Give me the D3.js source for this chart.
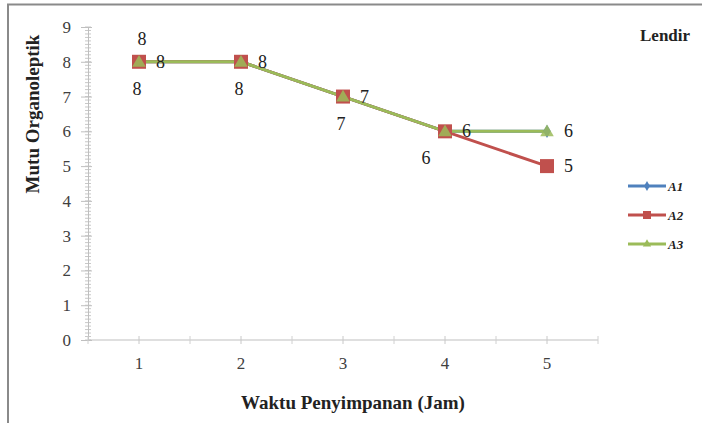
<!DOCTYPE html>
<html><head><meta charset="utf-8">
<script src="https://cdn.jsdelivr.net/npm/d3@7"></script>
<style>body{margin:0;background:#fff}svg{display:block}svg text{font-family:"Times New Roman",Tinos,"Liberation Serif","DejaVu Serif",serif !important}</style>
</head><body><svg id="c" width="702" height="423"></svg>
<script>
const categories = [1, 2, 3, 4, 5];
const A1 = [8, 8, 7, 6, 6];
const A2 = [8, 8, 7, 6, 5];
const A3 = [8, 8, 7, 6, 6];
const yTicks = [0,1,2,3,4,5,6,7,8,9];
const seriesNames = ["A1", "A2", "A3"];
const colors = ["#4f81bd", "#c0504d", "#9bbb59"];

const svg = d3.select("#c");
// frame
svg.append("path").attr("d","M8,423 V4.5 H702").attr("fill","none").attr("stroke","#8a8a8a").attr("stroke-width",2);

const m = {l:88, r:598, t:27, b:340};
const x = d3.scaleBand().domain(categories).range([m.l, m.r]);
const y = d3.scaleLinear().domain([0,9]).range([m.b, m.t]);
const cx = d => x(d) + x.bandwidth()/2;

// minor y ticks
const minor = d3.range(0, 9.01, 0.1);
svg.append("g").selectAll("line").data(minor).join("line")
  .attr("x1", m.l-3).attr("x2", m.l+3).attr("y1", d=>y(d)).attr("y2", d=>y(d))
  .attr("stroke","#c8c8c8").attr("stroke-width",1);
// y axis
const yAx = svg.append("g").attr("transform",`translate(${m.l},0)`)
  .call(d3.axisLeft(y).tickValues(yTicks).tickSize(7).tickPadding(10).tickFormat(d3.format("d")));
yAx.attr("font-family",null);
yAx.select(".domain").attr("stroke","#bfbfbf");
yAx.selectAll(".tick line").attr("stroke","#bfbfbf").attr("x2", 4).attr("x1",-7);
yAx.selectAll("text").attr("font-size",17).attr("fill","#404040");

// x axis
const xAx = svg.append("g").attr("transform",`translate(0,${m.b})`)
  .call(d3.axisBottom(x).tickSize(5).tickPadding(12));
xAx.attr("font-family",null);
xAx.select(".domain").attr("stroke","#bfbfbf").attr("d",`M${m.l},0H${m.r}`);
xAx.selectAll(".tick line").attr("stroke","#c8c8c8").attr("y1",-4).attr("y2",4);
xAx.selectAll("text").attr("font-size",17).attr("fill","#404040");
// boundary ticks
svg.append("g").selectAll("line").data(categories.concat([null])).join("line")
  .attr("x1",(d,i)=>m.l + i*x.bandwidth()).attr("x2",(d,i)=>m.l + i*x.bandwidth())
  .attr("y1",m.b-4).attr("y2",m.b+4).attr("stroke","#d0d0d0");

// axis titles
svg.append("text").attr("transform","translate(39,114) rotate(-90)").attr("text-anchor","middle")
  .attr("font-size",19).attr("font-weight","bold").attr("fill","#222").text("Mutu Organoleptik");
svg.append("text").attr("x",353).attr("y",409).attr("text-anchor","middle")
  .attr("font-size",19).attr("font-weight","bold").attr("fill","#222").text("Waktu Penyimpanan (Jam)");
svg.append("text").attr("x",640).attr("y",41).attr("font-size",17).attr("font-weight","bold").attr("fill","#222").text("Lendir");

const all = [A1, A2, A3];
const line = d3.line().x((d,i)=>cx(categories[i])).y(d=>y(d));
all.forEach((s,k)=>{
  svg.append("path").datum(s).attr("d",line).attr("fill","none").attr("stroke",colors[k]).attr("stroke-width",3);
});
// markers
svg.append("g").selectAll("path").data(A1).join("path")
  .attr("transform",(d,i)=>`translate(${cx(categories[i])},${y(d)})`)
  .attr("d", d3.symbol(d3.symbolDiamond, 50)).attr("fill",colors[0]);
svg.append("g").selectAll("rect").data(A2).join("rect")
  .attr("x",(d,i)=>cx(categories[i])-7).attr("y",d=>y(d)-7).attr("width",14).attr("height",14)
  .attr("fill",colors[1]);
svg.append("g").selectAll("path").data(A3).join("path")
  .attr("transform",(d,i)=>`translate(${cx(categories[i])},${y(d)+1})`)
  .attr("d", d3.symbol(d3.symbolTriangle, 80)).attr("fill",colors[2]).attr("opacity",0.85);

// data labels
const lab = svg.append("g").attr("font-size",18).attr("fill","#222");
// A1 labels below
A1.forEach((d,i)=>{ if(i<4){
  const dx = i===3 ? -19 : -2;
  lab.append("text").attr("x",cx(categories[i])+dx).attr("y",y(d)+33).attr("text-anchor","middle").text(d);
}});
// A2 labels right
A2.forEach((d,i)=>{
  lab.append("text").attr("x",cx(categories[i])+17).attr("y",y(d)+6).text(d);
});
// A3 labels: above for first, right for last
lab.append("text").attr("x",cx(categories[0])+3).attr("y",y(A3[0])-17).attr("text-anchor","middle").text(A3[0]);
lab.append("text").attr("x",cx(categories[4])+17).attr("y",y(A3[4])+6).text(A3[4]);

// legend
const lg = svg.append("g");
seriesNames.forEach((n,k)=>{
  const ly = 186 + k*29;
  lg.append("line").attr("x1",628).attr("x2",666).attr("y1",ly).attr("y2",ly).attr("stroke",colors[k]).attr("stroke-width",3);
  if(k===0) lg.append("path").attr("transform",`translate(647,${ly})`).attr("d",d3.symbol(d3.symbolDiamond,30)).attr("fill",colors[0]);
  if(k===1) lg.append("rect").attr("x",643).attr("y",ly-4).attr("width",8).attr("height",8).attr("fill",colors[1]);
  if(k===2) lg.append("path").attr("transform",`translate(647,${ly})`).attr("d",d3.symbol(d3.symbolTriangle,30)).attr("fill",colors[2]);
  lg.append("text").attr("x",668).attr("y",ly+5).attr("font-size",13).attr("font-style","italic").attr("font-weight","bold").attr("fill","#222").text(n);
});
</script></body></html>
